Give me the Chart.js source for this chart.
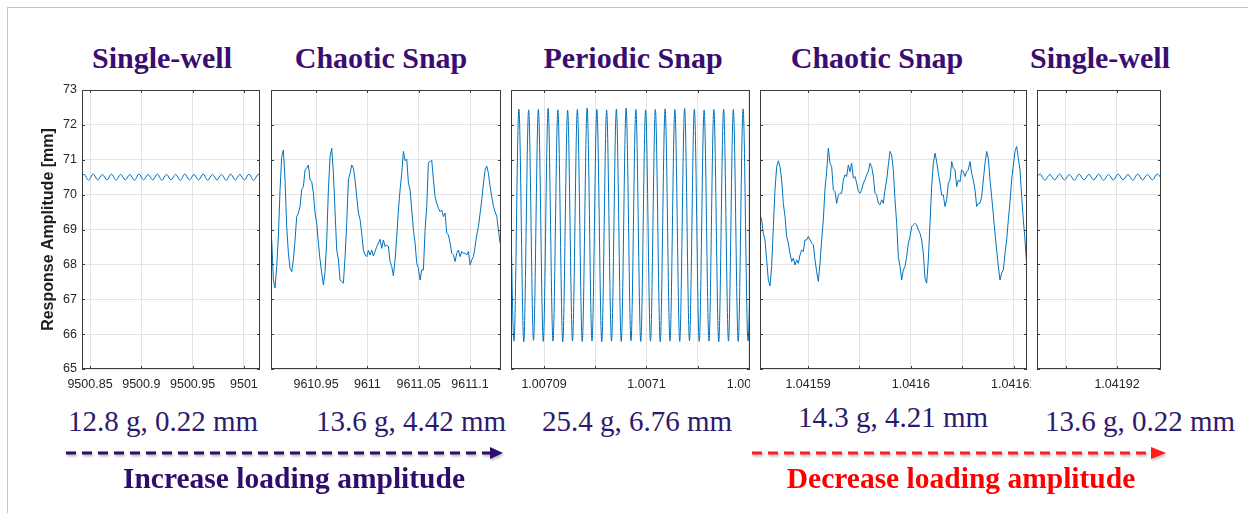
<!DOCTYPE html>
<html>
<head>
<meta charset="utf-8">
<script src="https://cdn.jsdelivr.net/npm/chart.js@4.4.1/dist/chart.umd.min.js"></script>
<style>
    html, body { margin: 0; padding: 0; background: #fff; }
    #wrap { position: relative; width: 1248px; height: 513px; overflow: hidden; background: #fff; }
    #frame { position: absolute; left: 7px; top: 7px; width: 1260px; height: 520px; border-left: 1px solid #c4c4c4; border-top: 1px solid #c4c4c4; }
    canvas { position: absolute; top: 80px; }
    .title, .lbl, .note { position: absolute; width: 420px; text-align: center; white-space: nowrap; font-family: "Liberation Serif", "Times New Roman", serif; }
    .title { font-size: 30px; line-height: 30px; font-weight: bold; color: #3a0e70; }
    .lbl { font-size: 29px; line-height: 29px; color: #2e1a6a; }
    .note { font-size: 29.5px; line-height: 30px; font-weight: bold; }
    svg { position: absolute; left: 0; top: 0; }
</style>
</head>
<body>
<div id="wrap">
    <div id="frame"></div>

    <div class="title" style="left:-48px; top:43px;">Single-well</div>
    <div class="title" style="left:171px; top:43px;">Chaotic Snap</div>
    <div class="title" style="left:423px; top:43px;">Periodic Snap</div>
    <div class="title" style="left:667px; top:43px;">Chaotic Snap</div>
    <div class="title" style="left:890px; top:43px;">Single-well</div>

    <canvas id="p1" width="261" height="320" style="left:0px;"></canvas>
    <canvas id="p2" width="230" height="320" style="left:271px;"></canvas>
    <canvas id="p3" width="239" height="320" style="left:511px;"></canvas>
    <canvas id="p4" width="271" height="320" style="left:760px;"></canvas>
    <canvas id="p5" width="124" height="320" style="left:1037px;"></canvas>

    <div class="lbl" style="left:-47px; top:407px;">12.8 g, 0.22 mm</div>
    <div class="lbl" style="left:201px; top:407px;">13.6 g, 4.42 mm</div>
    <div class="lbl" style="left:427px; top:407px;">25.4 g, 6.76 mm</div>
    <div class="lbl" style="left:683px; top:403px;">14.3 g, 4.21 mm</div>
    <div class="lbl" style="left:930px; top:407px;">13.6 g, 0.22 mm</div>

    <svg width="1248" height="513">
        <defs>
            <filter id="sh" x="-5%" y="-50%" width="110%" height="200%">
                <feDropShadow dx="1" dy="2" stdDeviation="1" flood-color="#000" flood-opacity="0.25"/>
            </filter>
        </defs>
        <g filter="url(#sh)">
            <line x1="66" y1="453" x2="490" y2="453" stroke="#2e0a6e" stroke-width="3" stroke-dasharray="10 6"/>
            <polygon points="490,447 503,453 490,459" fill="#2e0a6e"/>
            <line x1="752" y1="453" x2="1149" y2="453" stroke="#ff1a1a" stroke-width="3" stroke-dasharray="10 6"/>
            <polygon points="1151,447 1166,453 1151,459" fill="#ff1a1a"/>
        </g>
    </svg>

    <div class="note" style="left:84px; top:463px; color:#320c6c;">Increase loading amplitude</div>
    <div class="note" style="left:751px; top:463px; color:#ff0000;">Decrease loading amplitude</div>
</div>

<script>
// shared y axis (mm)
const yMin = 65;
const yMax = 73;
const yTitle = "Response Amplitude [mm]";

// panel 1: single-well (increasing)
const sw1Range = [9500.8422, 9501.0157];
const sw1Ticks = [9500.85, 9500.9, 9500.95, 9501];
const sw1Labels = ["9500.85", "9500.9", "9500.95", "9501"];
const sw1Start = 9500.83969;
const sw1Step = 0.004467;
const sw1Values = [70.42, 70.58, 70.41, 70.59, 70.42, 70.58, 70.42, 70.59, 70.41, 70.58,
    70.42, 70.58, 70.41, 70.59, 70.42, 70.58, 70.42, 70.59, 70.41, 70.58,
    70.42, 70.58, 70.41, 70.59, 70.42, 70.58, 70.42, 70.59, 70.41, 70.58,
    70.42, 70.58, 70.41, 70.59, 70.42, 70.58, 70.42, 70.59, 70.41, 70.58, 70.42];

// panel 2: chaotic snap (increasing)
const cs1Range = [9610.9061, 9611.1302];
const cs1Ticks = [9610.95, 9611, 9611.05, 9611.1];
const cs1Labels = ["9610.95", "9611", "9611.05", "9611.1"];
const cs1Start = 9610.90679;
const cs1Step = 0.0016244;
const cs1Values = [68.70, 67.55, 67.32, 67.94, 68.80, 70.14, 71.09, 71.28, 70.42, 69.08,
    68.32, 67.89, 67.79, 68.13, 68.70, 69.37, 69.47, 69.66, 70.14, 70.23,
    70.71, 70.76, 70.85, 70.42, 70.37, 70.04, 69.47, 69.18, 68.61, 68.13,
    67.75, 67.41, 67.79, 68.70, 70.14, 71.09, 71.33, 70.61, 69.51, 68.41,
    68.13, 67.55, 67.51, 67.46, 68.22, 69.18, 70.42, 70.61, 70.85, 70.76,
    70.42, 69.94, 69.47, 69.29, 68.89, 68.41, 68.27, 68.22, 68.40, 68.27,
    68.41, 68.24, 68.37, 68.51, 68.61, 68.72, 68.46, 68.70, 68.51, 68.56,
    68.51, 68.08, 67.94, 67.67, 68.13, 68.80, 69.56, 70.14, 70.61, 71.24,
    70.97, 71.02, 70.33, 70.14, 69.56, 68.99, 68.61, 68.03, 67.89, 67.55,
    67.84, 67.84, 68.99, 69.66, 70.92, 70.95, 70.98, 70.42, 69.94, 69.75,
    69.61, 69.51, 69.56, 69.37, 69.47, 68.89, 68.85, 68.61, 68.32, 68.27,
    68.08, 68.32, 68.41, 68.22, 68.37, 68.32, 68.32, 68.27, 68.37, 67.98,
    68.13, 68.22, 68.51, 68.85, 69.08, 69.47, 69.85, 70.33, 70.71, 70.82,
    70.61, 70.23, 69.94, 69.66, 69.51, 69.37, 68.99, 68.61];

// panel 3: periodic snap
const psRange = [1.00708678, 1.0071101];
const psTicks = [1.00709, 1.007095, 1.0071, 1.007105, 1.00711];
const psLabels = ["1.00709", "", "1.0071", "", "1.00711"];
const psStart = 1.007086598;
const psStep = 4.756e-7;
const psValues = [72.44, 65.80, 72.45, 65.78, 72.43, 65.82, 72.44, 65.79, 72.47, 65.80,
    72.43, 65.78, 72.42, 65.81, 72.44, 65.79, 72.48, 65.80, 72.44, 65.78,
    72.43, 65.80, 72.45, 65.79, 72.48, 65.81, 72.44, 65.79, 72.43, 65.80,
    72.44, 65.78, 72.46, 65.80, 72.44, 65.79, 72.47, 65.81, 72.45, 65.79,
    72.43, 65.80, 72.44, 65.78, 72.45, 65.80, 72.44, 65.79, 72.46, 65.81, 72.44];

// panel 4: chaotic snap (decreasing)
const cs2Range = [1.041585333, 1.041611293];
const cs2Ticks = [1.04159, 1.041595, 1.0416, 1.041605, 1.04161];
const cs2Labels = ["1.04159", "", "1.0416", "", "1.04161"];
const cs2Start = 1.041585333;
const cs2Step = 1.6205e-7;
const cs2Values = [69.42, 69.28, 68.89, 68.70, 68.13, 67.55, 67.38, 67.94, 69.08, 70.14,
    70.80, 70.97, 70.80, 70.42, 69.75, 69.37, 68.80, 68.61, 68.32, 68.08,
    68.18, 67.98, 68.13, 68.03, 68.27, 68.41, 68.37, 68.70, 68.70, 68.80,
    68.70, 68.61, 68.56, 68.13, 67.79, 67.51, 68.03, 68.70, 69.28, 70.18,
    70.66, 71.33, 70.90, 70.80, 70.14, 70.09, 69.75, 69.99, 70.04, 70.04,
    70.42, 70.57, 70.52, 70.85, 70.66, 70.90, 70.47, 70.52, 70.33, 70.09,
    70.04, 70.14, 70.33, 70.42, 70.57, 70.66, 70.90, 70.80, 70.52, 70.04,
    69.99, 69.75, 69.71, 69.85, 69.75, 70.14, 70.42, 70.85, 71.24, 71.14,
    70.71, 69.85, 69.18, 68.22, 67.94, 67.55, 67.84, 67.94, 68.22, 68.61,
    68.80, 69.08, 69.13, 69.18, 69.13, 68.99, 68.89, 68.70, 68.32, 67.60,
    67.46, 68.13, 69.18, 70.23, 70.90, 71.19, 70.95, 70.61, 70.33, 69.99,
    69.99, 69.66, 69.85, 70.33, 70.42, 70.95, 70.76, 70.71, 70.23, 70.42,
    70.37, 70.71, 70.66, 70.52, 70.66, 70.71, 70.95, 70.61, 70.42, 70.14,
    69.66, 69.75, 69.75, 69.94, 70.42, 70.90, 71.24, 71.04, 70.42, 69.94,
    69.42, 68.89, 68.41, 67.94, 67.55, 67.75, 67.84, 68.32, 68.70, 69.28,
    69.80, 70.42, 70.85, 71.24, 71.38, 71.04, 70.71, 69.94, 69.28, 68.70, 67.98];

// panel 5: single-well (decreasing)
const sw2Range = [1.041912157, 1.041924314];
const sw2Ticks = [1.041915, 1.04192];
const sw2Labels = ["", "1.04192"];
const sw2Start = 1.0419119775;
const sw2Step = 4.7876e-7;
const sw2Values = [70.42, 70.59, 70.41, 70.58, 70.42, 70.59, 70.42, 70.58, 70.41, 70.59,
    70.42, 70.58, 70.42, 70.59, 70.41, 70.58, 70.42, 70.59, 70.42, 70.58,
    70.41, 70.59, 70.42, 70.58, 70.42, 70.59, 70.42];

const lineColor = "#0072BD";
const gridColor = "#e4e4e4";
const axisColor = "#3c3c3c";
const tickFont = { family: "'Liberation Sans', Arial, sans-serif", size: 12.5 };

// MATLAB-style box with inward ticks
const boxPlugin = {
    id: "box",
    afterDraw(chart) {
        const { ctx, chartArea: a, scales: { x, y } } = chart;
        ctx.save();
        ctx.strokeStyle = axisColor;
        ctx.lineWidth = 1;
        ctx.strokeRect(a.left + 0.5, a.top + 0.5, a.right - a.left - 1, a.bottom - a.top - 1);
        ctx.beginPath();
        x.ticks.forEach(t => {
            const px = Math.round(x.getPixelForValue(t.value)) + 0.5;
            ctx.moveTo(px, a.top); ctx.lineTo(px, a.top + 3);
            ctx.moveTo(px, a.bottom); ctx.lineTo(px, a.bottom - 3);
        });
        y.ticks.forEach(t => {
            const py = Math.round(y.getPixelForValue(t.value)) + 0.5;
            ctx.moveTo(a.left, py); ctx.lineTo(a.left + 3, py);
            ctx.moveTo(a.right, py); ctx.lineTo(a.right - 3, py);
        });
        ctx.stroke();
        ctx.restore();
    }
};

function renderPanel(canvasId, p) {
    const el = document.getElementById(canvasId);
    if (!el) return;
    const pts = p.values.map((v, i) => ({ x: p.start + i * p.step, y: v }));

    new Chart(el.getContext("2d"), {
        type: "line",
        data: {
            datasets: [{
                data: pts,
                borderColor: lineColor,
                borderWidth: 1,
                pointRadius: 0,
                fill: false,
                cubicInterpolationMode: p.smooth ? "monotone" : "default",
                tension: 0
            }]
        },
        options: {
            responsive: false,
            animation: false,
            events: [],
            layout: { padding: { top: 10, right: p.padRight || 0, bottom: 0, left: 0 } },
            plugins: { legend: { display: false }, tooltip: { enabled: false } },
            scales: {
                x: {
                    type: "linear",
                    min: p.range[0],
                    max: p.range[1],
                    afterBuildTicks: s => { s.ticks = p.ticks.map(v => ({ value: v })); },
                    afterFit: s => { s.height = 31; s.paddingLeft = 0; s.paddingRight = 0; },
                    ticks: {
                        autoSkip: false,
                        maxRotation: 0,
                        padding: 8,
                        color: "#262626",
                        font: tickFont,
                        callback: (v, i) => p.labels[i]
                    },
                    grid: { color: gridColor, drawTicks: false },
                    border: { display: false }
                },
                y: {
                    min: yMin,
                    max: yMax,
                    afterFit: s => { s.width = p.yWidth || 0; s.paddingTop = 0; s.paddingBottom = 0; },
                    ticks: {
                        display: !!p.yLabels,
                        stepSize: 1,
                        padding: 5,
                        color: "#262626",
                        font: tickFont
                    },
                    title: {
                        display: !!p.yLabels,
                        text: yTitle,
                        color: "#1e1e1e",
                        font: { family: "'Liberation Sans', Arial, sans-serif", size: 16, weight: "bold" },
                        padding: { top: 39, bottom: 0 }
                    },
                    grid: { color: gridColor, drawTicks: false },
                    border: { display: false }
                }
            }
        },
        plugins: [boxPlugin]
    });
}

renderPanel("p1", { range: sw1Range, ticks: sw1Ticks, labels: sw1Labels, start: sw1Start, step: sw1Step, values: sw1Values, smooth: true, yLabels: true, yWidth: 82, padRight: 1 });
renderPanel("p2", { range: cs1Range, ticks: cs1Ticks, labels: cs1Labels, start: cs1Start, step: cs1Step, values: cs1Values });
renderPanel("p3", { range: psRange, ticks: psTicks, labels: psLabels, start: psStart, step: psStep, values: psValues, smooth: true });
renderPanel("p4", { range: cs2Range, ticks: cs2Ticks, labels: cs2Labels, start: cs2Start, step: cs2Step, values: cs2Values, padRight: 4 });
renderPanel("p5", { range: sw2Range, ticks: sw2Ticks, labels: sw2Labels, start: sw2Start, step: sw2Step, values: sw2Values, smooth: true });
</script>
</body>
</html>
